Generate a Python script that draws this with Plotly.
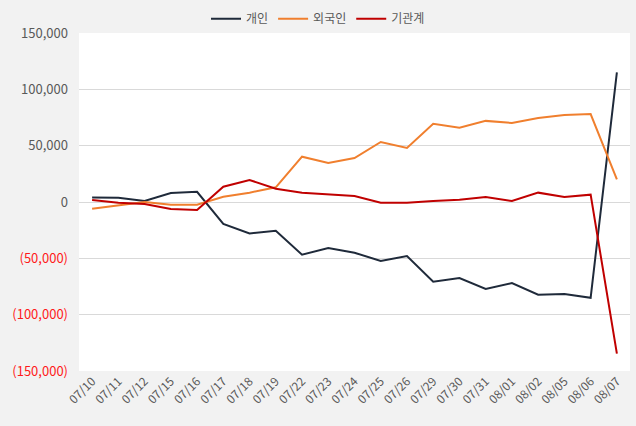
import plotly.graph_objects as go

dates = ["07/10", "07/11", "07/12", "07/15", "07/16", "07/17", "07/18", "07/19", "07/22", "07/23",
         "07/24", "07/25", "07/26", "07/29", "07/30", "07/31", "08/01", "08/02", "08/05", "08/06", "08/07"]
individual = [4000, 3800, 1000, 8000, 9000, -19500, -28000, -25500, -46700, -40800,
              -45000, -52400, -47900, -70700, -67500, -77200, -71900, -82300, -81700, -85000, 115000]
foreign = [-6000, -3300, 0, -2400, -2400, 4700, 8300, 13000, 40200, 34600,
           39000, 53300, 48000, 69500, 66000, 72000, 70100, 74600, 77200, 78100, 20100]
institution = [1800, -600, -1800, -6200, -7100, 13600, 19500, 11800, 8300, 6500,
               5300, -600, -600, 900, 2000, 4400, 900, 8300, 4400, 6500, -134600]

tick_vals = [150000, 100000, 50000, 0, -50000, -100000, -150000]
tick_text = ["150,000", "100,000", "50,000", "0",
             "<span style='color:#ff1a1a'>(50,000)</span>",
             "<span style='color:#ff1a1a'>(100,000)</span>",
             "<span style='color:#ff1a1a'>(150,000)</span>"]

series = [("개인", individual, "#1f2a3a"), ("외국인", foreign, "#f07f2e"), ("기관계", institution, "#c00000")]

fig = go.Figure()
for name, vals, color in series:
    fig.add_trace(go.Scatter(x=dates, y=vals, name=name, mode="lines",
                             line=dict(color=color, width=2)))

fig.update_layout(
    width=636, height=426,
    margin=dict(l=79, r=6, t=33, b=55, autoexpand=False),
    paper_bgcolor="#f2f2f2", plot_bgcolor="#ffffff",
    font=dict(family="Noto Sans CJK KR, Noto Sans, sans-serif", color="#595959", size=12),
    showlegend=True,
    legend=dict(orientation="h", x=0.5, xanchor="center", xref="container",
                y=0.99, yanchor="top", yref="container",
                font=dict(size=12, color="#595959"),
                bgcolor="rgba(0,0,0,0)", itemwidth=30),
    xaxis=dict(type="category", tickangle=-45, showgrid=False, showline=False,
               ticks="", tickfont=dict(size=12, color="#595959"), range=[-0.5, 20.5]),
    yaxis=dict(range=[-150000, 150000], tickvals=tick_vals, ticktext=tick_text,
               showgrid=True, gridcolor="#d9d9d9", gridwidth=1, zeroline=False,
               tickfont=dict(size=13, color="#595959"), ticks="", ticklabelstandoff=10),
)
fig.write_html("out.html")
